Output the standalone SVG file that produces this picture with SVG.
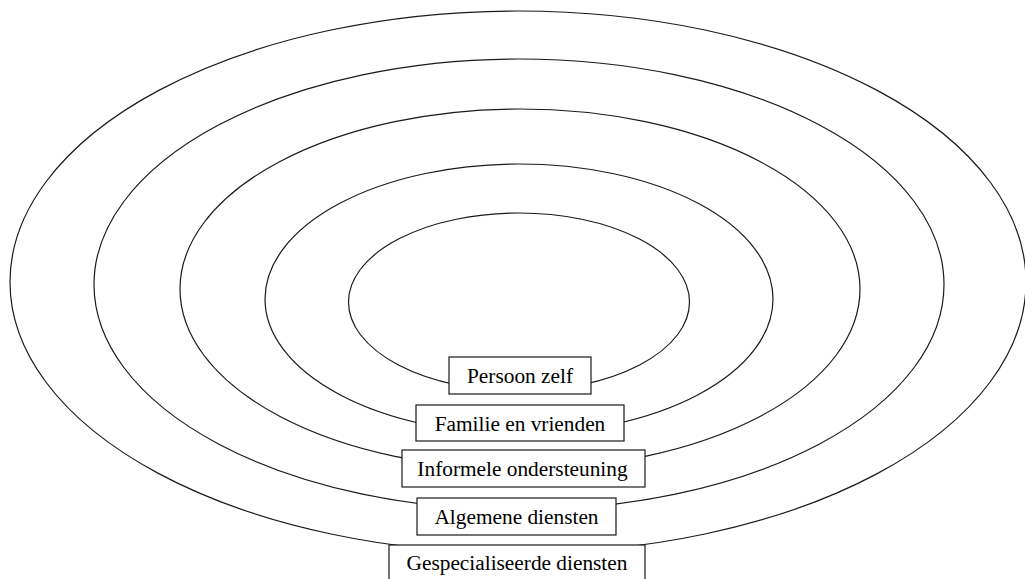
<svg xmlns="http://www.w3.org/2000/svg" width="1025" height="579" viewBox="0 0 1025 579">
<style>
.ring{fill:none;stroke:#1a1a1a;stroke-width:1.2}
.box{fill:#fff;stroke:#1a1a1a;stroke-width:1.2}
.lbl{font-family:'Liberation Serif','Times New Roman',serif;font-size:21.33px;fill:#000;text-anchor:middle}
</style>
<rect width="1025" height="579" fill="#fff"/>
<g id="ring-gespecialiseerde">
<ellipse class="ring" cx="518" cy="282" rx="508" ry="271"/>
<rect class="box" x="389" y="545" width="256" height="40"/>
<text class="lbl" x="517" y="570">Gespecialiseerde diensten</text>
</g>
<g id="ring-algemene">
<ellipse class="ring" cx="519" cy="284.5" rx="425" ry="225.5"/>
<rect class="box" x="417" y="498" width="199" height="37"/>
<text class="lbl" x="516.5" y="524">Algemene diensten</text>
</g>
<g id="ring-informele">
<ellipse class="ring" cx="520" cy="289" rx="340" ry="180"/>
<rect class="box" x="402" y="450" width="243" height="37"/>
<text class="lbl" x="522.5" y="476">Informele ondersteuning</text>
</g>
<g id="ring-familie">
<ellipse class="ring" cx="519" cy="299" rx="254" ry="135"/>
<rect class="box" x="416" y="405" width="208" height="36"/>
<text class="lbl" x="520" y="431">Familie en vrienden</text>
</g>
<g id="ring-persoon">
<ellipse class="ring" cx="519" cy="302" rx="170.5" ry="89"/>
<rect class="box" x="449" y="357" width="142" height="37"/>
<text class="lbl" x="520" y="383">Persoon zelf</text>
</g>
<g id="connectors"></g>
</svg>
